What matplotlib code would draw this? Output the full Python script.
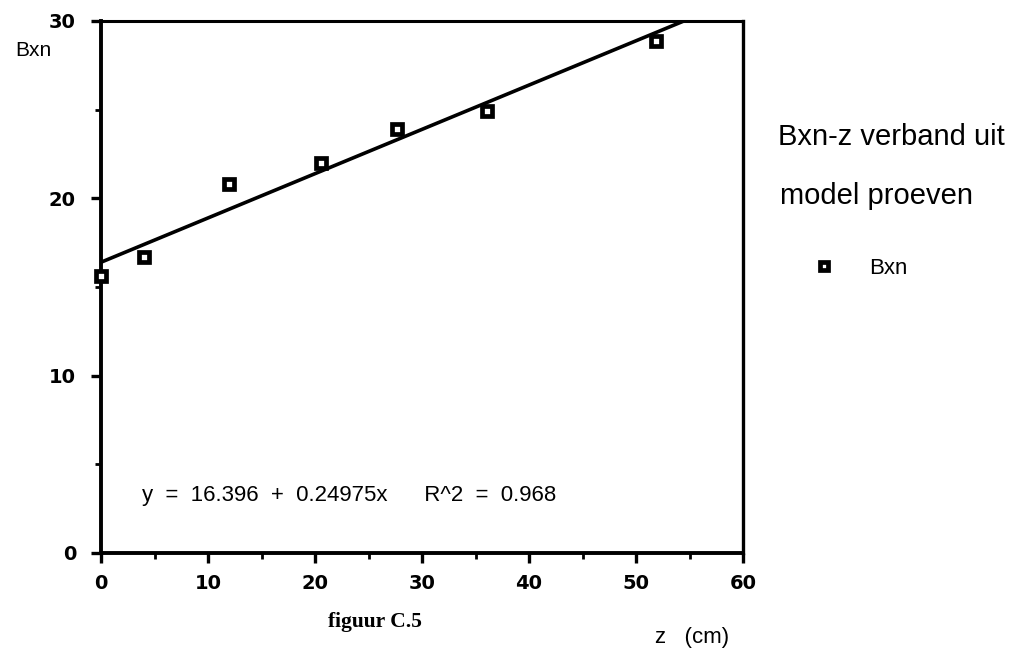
import matplotlib.pyplot as plt
from matplotlib.ticker import MultipleLocator

plt.rcParams['font.family'] = ['Liberation Sans', 'DejaVu Sans']

# measured points
z_cm = [0.0, 4.0, 12.0, 20.6, 27.7, 36.1, 51.9]
bxn = [15.6, 16.7, 20.8, 22.0, 23.9, 24.9, 28.9]

# regression from the chart
intercept = 16.396
slope = 0.24975
fit_x = [0, 60]

fig = plt.figure(figsize=(10.35, 6.53), dpi=100)
ax = fig.add_axes([101 / 1035, 1 - 553 / 653, 642 / 1035, 532 / 653])

fit_y = [intercept + slope * x for x in fit_x]
ax.plot(fit_x, fit_y, color='black', lw=2.6, solid_capstyle='butt')
ax.plot(z_cm, bxn, ls='none', marker='s', ms=6.6, mfc='white', mec='black', mew=3.4,
        label='Bxn', clip_on=False, zorder=5)

ax.set_xlim(0, 60)
ax.set_ylim(0, 30)
ax.xaxis.set_major_locator(MultipleLocator(10))
ax.xaxis.set_minor_locator(MultipleLocator(5))
ax.yaxis.set_major_locator(MultipleLocator(10))
ax.yaxis.set_minor_locator(MultipleLocator(5))
ax.tick_params(which='major', direction='out', length=7, width=2.4, pad=8)
ax.tick_params(which='minor', direction='out', length=4, width=2)
ax.tick_params(axis='y', pad=11)
for lab in ax.get_xticklabels() + ax.get_yticklabels():
    lab.set_family('DejaVu Sans')
    lab.set_fontweight('bold')
    lab.set_fontsize(14)

for s in ax.spines.values():
    s.set_linewidth(2.8)
ax.spines['top'].set_linewidth(2.2)
ax.spines['right'].set_linewidth(2.4)

ax.text(142 / 1035, 1 - 496 / 653, 'y  =  16.396  +  0.24975x      R^2  =  0.968',
        transform=fig.transFigure, fontsize=16, va='center', ha='left')

fig.text(15 / 1035, 1 - 50 / 653, 'Bxn', fontsize=15, va='center', ha='left')
fig.text(655 / 1035, 1 - 638 / 653, 'z   (cm)', fontsize=16, va='center', ha='left')
fig.text(375 / 1035, 1 - 622 / 653, 'figuur C.5', fontsize=15.5, va='center', ha='center',
         family='Liberation Serif', fontweight='bold')

fig.text(778 / 1035, 1 - 137 / 653, 'Bxn-z verband uit', fontsize=21, va='center', ha='left')
fig.text(780 / 1035, 1 - 196 / 653, 'model proeven', fontsize=21, va='center', ha='left')

leg = fig.legend(loc='center left', bbox_to_anchor=(782 / 1035, 1 - 268 / 653),
                 frameon=False, fontsize=16, handletextpad=1.0, markerscale=0.8)

fig.savefig('out.png', dpi=100)
